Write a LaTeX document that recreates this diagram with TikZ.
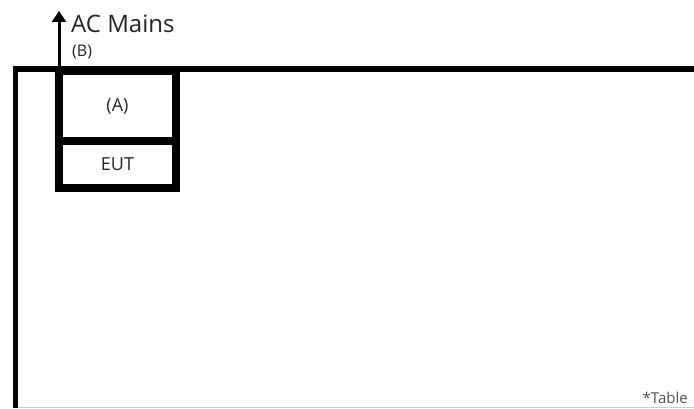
\documentclass[tikz,border=0pt]{standalone}
\usepackage{fontspec}
\setmainfont{Open Sans}
\usetikzlibrary{arrows.meta,positioning}
\definecolor{cT}{HTML}{262626}
\tikzset{
  unit/.style={draw,line width=8pt,minimum width=117pt,inner sep=0pt,
               outer sep=0pt,align=center,font=\fontsize{18}{20}\selectfont,
               text=cT},
  tablefill/.style={line width=5.5pt,miter limit=10},
  feed/.style={-{Triangle[length=11pt,width=14pt]},line width=3pt},
}
\begin{document}
\begin{tikzpicture}[x=1pt,y=1pt]
  \useasboundingbox (0,0) rectangle (694,408);
  % table top and left edge
  \draw[tablefill] (15.5,0) |- (694,339);
  \draw[gray!40,line width=1pt] (18,1) -- (694,1);
  % unit on the table
  \node[unit,minimum height=70pt] (A) at (117.5,302) {(A)};
  \node[unit,minimum height=47pt,anchor=north] (eut) at (A.south) {EUT};
  \coordinate (mains) at (59,397);
  \draw[feed] (A.north west) -- (mains);
  \node[anchor=base west,text=cT,font=\fontsize{24}{28}\selectfont,inner sep=0pt]
    (acm) at (71,375) {AC Mains};
  \node[anchor=base west,text=cT,font=\fontsize{16}{18}\selectfont,inner sep=0pt]
    (B) at (72,351) {(B)};
  \node[anchor=base east,text=cT!80,font=\fontsize{15}{17}\selectfont,inner sep=0pt]
    (tbl) at (688,5) {*Table};
\end{tikzpicture}
\end{document}
